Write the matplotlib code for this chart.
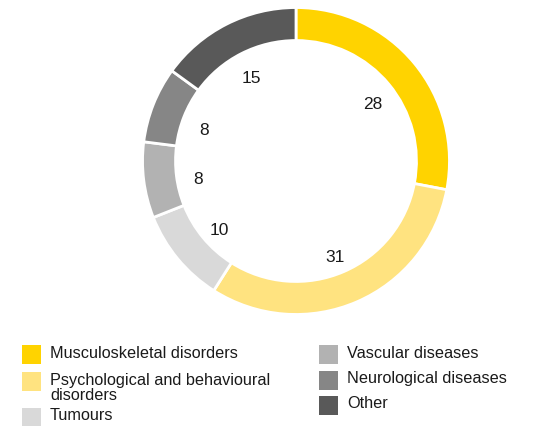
import matplotlib.pyplot as plt
from matplotlib.patches import Rectangle

plt.rcParams['font.family'] = ['Liberation Sans', 'DejaVu Sans']

# DATA
categories = ['Musculoskeletal disorders', 'Psychological and behavioural\ndisorders',
              'Tumours', 'Vascular diseases', 'Neurological diseases', 'Other']
values = [28, 31, 10, 8, 8, 15]
colors = ['#FFD300', '#FFE380', '#D9D9D9', '#B2B2B2', '#868686', '#595959']

W, H = 553, 426
fig = plt.figure(figsize=(W / 100, H / 100), dpi=100)

# DONUT
cx, cy, r = 296, 161, 155
ax = fig.add_axes([(cx - r) / W, (H - cy - r) / H, 2 * r / W, 2 * r / H])
wedges, texts = ax.pie(values, colors=colors, startangle=90, counterclock=False,
                       radius=1, labels=[str(v) for v in values], labeldistance=0.645,
                       wedgeprops=dict(width=0.215, edgecolor='white', linewidth=2),
                       textprops=dict(fontsize=12.5, color='#1a1a1a', ha='center', va='center'))
# labels sit a little low in the original
for t in texts:
    x, y = t.get_position()
    t.set_position((x, y - 0.04))
ax.set_xlim(-1.01, 1.01)
ax.set_ylim(-1.01, 1.01)
ax.set_aspect('equal')
ax.axis('off')

# LEGEND
col_x = [22, 319]
rows = [[354, 381, 417], [354, 380, 405]]
box = 19
for i, (label, color) in enumerate(zip(categories, colors)):
    col = i // 3
    y = rows[col][i % 3]
    x = col_x[col]
    fig.patches.append(Rectangle((x / W, (H - y - box / 2) / H), box / W, box / H,
                                 transform=fig.transFigure, facecolor=color,
                                 edgecolor='none'))
    top = y - 8.5
    fig.text((x + 28) / W, (H - top) / H, label, fontsize=11.7, color='#1a1a1a',
             ha='left', va='top', linespacing=1.02)

fig.savefig('out.png', dpi=100)
